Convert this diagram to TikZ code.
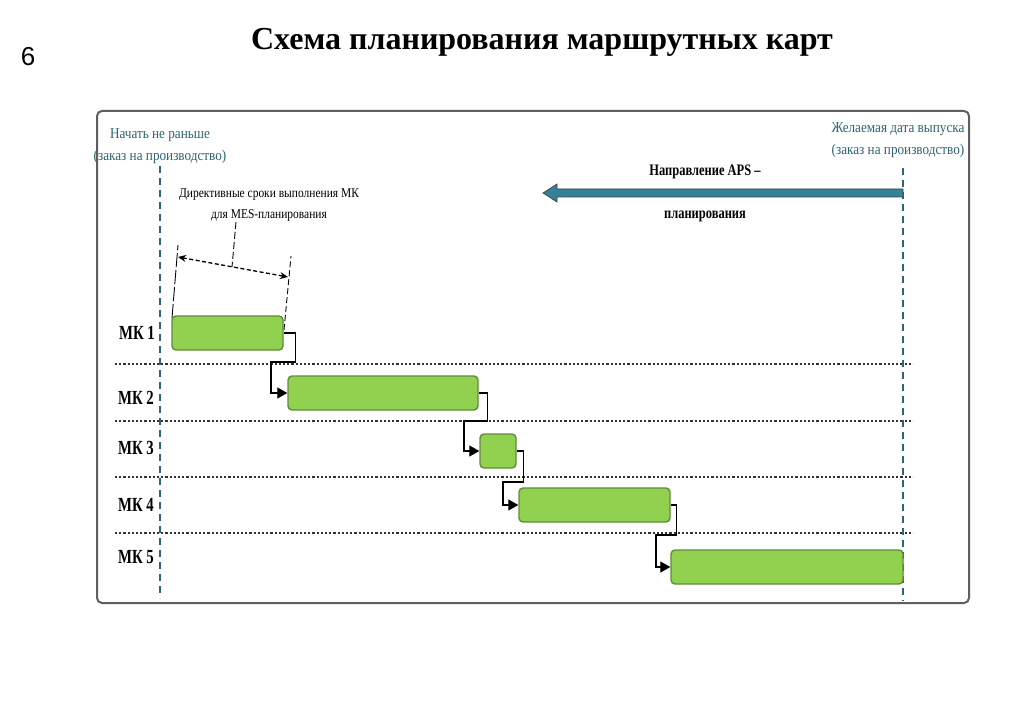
\documentclass[tikz,border=0pt]{standalone}
\usepackage{fontspec}
\setmainfont{Liberation Serif}
\newfontfamily\sfont{Liberation Sans}
\newfontfamily\labfont[FakeStretch=0.88]{Liberation Serif}
\newfontfamily\dirfont[FakeStretch=0.85]{Liberation Serif}
\newfontfamily\mkfont[FakeStretch=0.74]{Liberation Serif}
\newfontfamily\apsfont[FakeStretch=0.78]{Liberation Serif}
\usetikzlibrary{arrows.meta}
\definecolor{tealc}{HTML}{2E6474}
\definecolor{tealf}{HTML}{34819A}
\definecolor{barfill}{HTML}{92D050}
\definecolor{barline}{HTML}{5E8C3A}
\definecolor{framec}{HTML}{5F5F5F}
\definecolor{dotc}{HTML}{333333}
\begin{document}
\begin{tikzpicture}[x=1pt,y=-1pt,
  bar/.style={draw=barline, line width=1.4pt, fill=barfill, rounded corners=4pt, inner sep=0pt, minimum height=34pt},
  conn/.style={draw=black, line width=1.2pt, -{Triangle[length=10pt,width=11pt]}},
  rowline/.style={draw=dotc, line width=2.5pt, dash pattern=on 2.2pt off 2pt},
  vdash/.style={draw=tealc, line width=1.4pt, dash pattern=on 7pt off 5pt},
  tlabel/.style={text=tealc, font=\labfont\fontsize{15}{22}\selectfont, align=center, inner sep=0pt},
  mklabel/.style={font=\mkfont\bfseries\fontsize{20}{22}\selectfont, inner sep=0pt},
  small/.style={font=\dirfont\fontsize{13.5}{21}\selectfont, inner sep=0pt},
  smallb/.style={font=\apsfont\bfseries\fontsize{16}{18}\selectfont, inner sep=0pt}]
\useasboundingbox (0,0) rectangle (1024,708);
\fill[white] (0,0) rectangle (1024,708);

% page number and title
\node[font=\sfont\fontsize{26}{28}\selectfont, inner sep=0pt] (num) at (28,57) {6};
\node[font=\bfseries\fontsize{32}{34}\selectfont, inner sep=0pt] (title) at (542,42) {Схема планирования маршрутных карт};

% frame
\draw[framec, line width=2pt, rounded corners=5pt] (97,111) rectangle (969,603);

% row separators
\foreach \yy in {364,421,477,533} \draw[rowline] (115,\yy) -- (913,\yy);

% vertical time limits
\coordinate (lt) at (160,166);
\coordinate (lb) at (160,598);
\coordinate (rt) at (903,168);
\coordinate (rb) at (903,601);
\draw[vdash] (lt) -- (lb);
\draw[vdash] (rt) -- (rb);

\node[tlabel] (start) at (160,146) {Начать не раньше\\(заказ на производство)};
\node[tlabel] (finish) at (898,140) {Желаемая дата выпуска\\(заказ на производство)};

% APS direction arrow
\coordinate (aps0) at (903,193);
\coordinate (aps1) at (543,193);
\draw[black!75, line width=0.7pt, fill=tealf]
  (903,189) -- (557,189) -- (557,184) -- (543,193) -- (557,202) -- (557,197) -- (903,197) -- cycle;
\node[smallb] (aps) at (705,172) {Направление APS –};
\node[smallb] (apsb) at (705,216) {планирования};

% directive deadline annotation
\node[small, align=center] (dir) at (269,205) {Директивные сроки выполнения МК\\для MES-планирования};
\coordinate (dl1) at (178,245);
\coordinate (dl0) at (172,318);
\coordinate (dr1) at (291,256);
\coordinate (dr0) at (284,330);
\draw[black, line width=0.9pt, dash pattern=on 14pt off 3pt] (dl0) -- (dl1);
\draw[black, line width=0.9pt, dash pattern=on 6pt off 3pt] (dr0) -- (dr1);
\coordinate (da) at (178,257);
\coordinate (db) at (288,277);
\draw[black, line width=1.3pt, dash pattern=on 4pt off 2.5pt, {Stealth[length=8pt,width=7pt]}-{Stealth[length=8pt,width=7pt]}] (da) -- (db);
\coordinate (lead0) at (236,222);
\coordinate (lead1) at (232,267);
\draw[black, line width=0.9pt, dash pattern=on 7pt off 3pt] (lead0) -- (lead1);

% bars
\node[bar, minimum width=111pt] (mk1) at (227.5,333) {};
\node[bar, minimum width=190pt] (mk2) at (383,393) {};
\node[bar, minimum width=36pt]  (mk3) at (498,451) {};
\node[bar, minimum width=151pt] (mk4) at (594.5,505) {};
\node[bar, minimum width=232pt] (mk5) at (787,567) {};

% labels
\node[mklabel] (l1) at (137,333) {МК 1};
\node[mklabel] (l2) at (136,398) {МК 2};
\node[mklabel] (l3) at (136,448) {МК 3};
\node[mklabel] (l4) at (136,505) {МК 4};
\node[mklabel] (l5) at (136,557) {МК 5};

% connectors
\draw[conn] (mk1.east) -- ++(12,0) -- ++(0,29) -- (271,362) |- (mk2.west);
\draw[conn] (mk2.east) -- ++(9,0) -- ++(0,28) -- (464,421) |- (mk3.west);
\draw[conn] (mk3.east) -- ++(7,0) -- ++(0,31) -- (503,482) |- (mk4.west);
\draw[conn] (mk4.east) -- ++(6,0) -- ++(0,30) -- (656,535) |- (mk5.west);
\end{tikzpicture}
\end{document}
